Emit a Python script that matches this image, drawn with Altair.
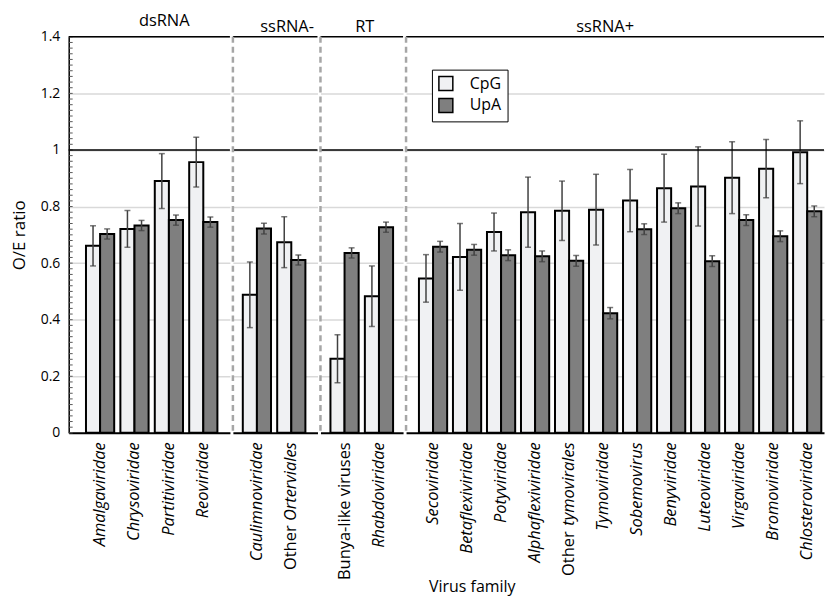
import altair as alt
import pandas as pd

FONT = "Open Sans"

# ---- data ----
families = ["Amalgaviridae", "Chrysoviridae", "Partitiviridae", "Reoviridae",
            "Caulimnoviridae", "Other Orterviales",
            "Bunya-like viruses", "Rhabdoviridae",
            "Secoviridae", "Betaflexiviridae", "Potyviridae", "Alphaflexiviridae",
            "Other tymovirales", "Tymoviridae", "Sobemovirus", "Benyviridae",
            "Luteoviridae", "Virgaviridae", "Bromoviridae", "Chlosteroviridae"]
groups = ["dsRNA"] * 4 + ["ssRNA-"] * 2 + ["RT"] * 2 + ["ssRNA+"] * 12
series_names = ["CpG", "UpA"]
cpg = [0.661, 0.721, 0.890, 0.957, 0.488, 0.674, 0.262, 0.483, 0.546, 0.622,
       0.710, 0.780, 0.785, 0.789, 0.821, 0.865, 0.871, 0.902, 0.934, 0.992]
cpg_err = [0.071, 0.065, 0.097, 0.088, 0.116, 0.090, 0.085, 0.107, 0.084, 0.118,
           0.067, 0.124, 0.105, 0.125, 0.110, 0.120, 0.140, 0.127, 0.103, 0.111]
upa = [0.703, 0.733, 0.752, 0.745, 0.722, 0.611, 0.636, 0.727, 0.658, 0.647,
       0.628, 0.624, 0.608, 0.423, 0.720, 0.794, 0.607, 0.752, 0.695, 0.783]
upa_err = [0.018, 0.018, 0.018, 0.018, 0.019, 0.018, 0.018, 0.018, 0.019, 0.019,
           0.019, 0.019, 0.019, 0.020, 0.019, 0.019, 0.019, 0.019, 0.019, 0.019]
ref_lines = [1.0, 1.4]
y_ticks = [0, 0.2, 0.4, 0.6, 0.8, 1.0, 1.2, 1.4]
grid_ticks = [0.2, 0.4, 0.6, 0.8, 1.0, 1.2]
minor_ticks = [round(i * 0.02, 2) for i in range(71)]

rows = []
for f, g, c, ce, u, ue in zip(families, groups, cpg, cpg_err, upa, upa_err):
    rows.append(dict(family=f, group=g, series="CpG", value=c, lo=c - ce, hi=c + ce))
    rows.append(dict(family=f, group=g, series="UpA", value=u, lo=u - ue, hi=u + ue))
df = pd.DataFrame(rows)

H = 398
LABEL_FS = 16.5
yscale = alt.Scale(domain=[0, 1.4], nice=False, zero=True)
color_scale = alt.Scale(domain=series_names, range=["#F0F1F3", "#7F7F7F"])
legend = alt.Legend(title=None, orient="none", legendX=365, legendY=33,
                    symbolType="square", symbolSize=196, symbolStrokeColor="black",
                    symbolStrokeWidth=1.5, labelFontSize=16, labelFont=FONT,
                    labelColor="black", strokeColor="black", fillColor="white",
                    padding=6, rowPadding=2, labelOffset=16)


def panel(group, width, po, align, first=False, dx=0):
    sub = df[df.group == group]
    fams = [f for f, g in zip(families, groups) if g == group]
    xaxis = alt.Axis(title=None, labelAngle=-90, ticks=False, domain=True,
                     domainColor="black", domainWidth=2, labelFontSize=LABEL_FS,
                     labelFont=FONT, labelColor="black", labelPadding=9,
                     labelExpr="replace(datum.label, 'Other ', '')",
                     labelFontStyle={"condition": {"test": "datum.value == 'Bunya-like viruses'",
                                                   "value": "normal"}, "value": "italic"})
    xenc = alt.X("family:N", sort=fams,
                 scale=alt.Scale(domain=fams, paddingInner=0.18, paddingOuter=po, align=align),
                 axis=xaxis)
    xoff = alt.XOffset("series:N", sort=series_names, scale=alt.Scale(paddingInner=0, paddingOuter=0))
    if first:
        yaxis = alt.Axis(values=y_ticks, labelOverlap=False, ticks=False,
                         labelExpr="format(datum.value, '~g')",
                         domain=True, domainColor="black", domainWidth=1.5,
                         labelFontSize=14, labelFont=FONT, labelColor="black", labelPadding=9,
                         title="O/E ratio", titleFontSize=17, titleFont=FONT,
                         titleFontWeight="normal", titleColor="black", titlePadding=12,
                         grid=True, gridColor="#D9D9D9", gridWidth=1.5)
    else:
        yaxis = alt.Axis(values=grid_ticks, labels=False, ticks=False, domain=False,
                         title=None, grid=True, gridColor="#D9D9D9", gridWidth=1.5)
    base = alt.Chart(sub)
    bars = base.mark_bar(stroke="black", strokeWidth=2).encode(
        x=xenc, xOffset=xoff,
        y=alt.Y("value:Q", scale=yscale, axis=yaxis),
        color=alt.Color("series:N", scale=color_scale, legend=legend),
    )
    errs = base.mark_rule(color="#404040", strokeWidth=1.5).encode(
        x=xenc, xOffset=xoff, y=alt.Y("lo:Q", scale=yscale, axis=yaxis), y2="hi:Q")
    cap_lo = base.mark_tick(color="#404040", size=6, thickness=1.5).encode(
        x=xenc, xOffset=xoff, y=alt.Y("lo:Q", scale=yscale, axis=yaxis))
    cap_hi = base.mark_tick(color="#404040", size=6, thickness=1.5).encode(
        x=xenc, xOffset=xoff, y=alt.Y("hi:Q", scale=yscale, axis=yaxis))
    refs = alt.Chart(pd.DataFrame({"y": ref_lines})).mark_rule(color="black", strokeWidth=1.5).encode(
        y=alt.Y("y:Q", scale=yscale, axis=yaxis))
    layers = [bars, errs, cap_lo, cap_hi, refs]
    if first:
        minor = alt.Chart(pd.DataFrame({"m": minor_ticks})).mark_rule(
            color="#595959", strokeWidth=1).encode(
            y=alt.Y("m:Q", scale=yscale, axis=yaxis), x=alt.value(0), x2=alt.value(4))
        layers.insert(0, minor)
    else:
        sep = alt.Chart(pd.DataFrame({"a": [0]})).mark_rule(
            color="#A6A6A6", strokeWidth=2.5, strokeDash=[6, 4]).encode(
            x=alt.value(0), y=alt.value(0), y2=alt.value(H))
        layers.append(sep)
    others = [f for f in fams if f.startswith("Other ")]
    if others:
        off = {"Other Orterviales": 84, "Other tymovirales": 90}[others[0]]
        txt = alt.Chart(pd.DataFrame({"family": others, "t": ["Other"] * len(others)})).mark_text(
            angle=270, align="right", baseline="middle", fontSize=LABEL_FS, font=FONT,
            color="black").encode(x=xenc, y=alt.value(H + 9 + off), text="t:N")
        layers.append(txt)
    return alt.layer(*layers).properties(
        width=width, height=H,
        title=alt.TitleParams(group, fontSize=16.5, font=FONT, fontWeight="normal",
                              color="black", offset=0.5, anchor="middle", dx=dx))


p1 = panel("dsRNA", 162, 0.433, 0.58, first=True, dx=15)
p2 = panel("ssRNA-", 85, 0.32, 0.45, dx=12)
p3 = panel("RT", 83, 0.29, 0.5, dx=3)
p4 = panel("ssRNA+", 420, 0.234, 0.81, dx=-10)

chart = alt.hconcat(p1, p2, p3, p4, spacing=0).properties(
    padding={"left": 2, "top": 3.5, "right": 0, "bottom": 0},
    title=alt.TitleParams("Virus family", orient="bottom", anchor="middle", fontSize=16,
                          font=FONT, fontWeight="normal", color="black", offset=-1, dx=55),
).configure_view(stroke=None).configure_concat(spacing=0)

chart.save("out.html", embed_options={"renderer": "svg", "actions": False})
